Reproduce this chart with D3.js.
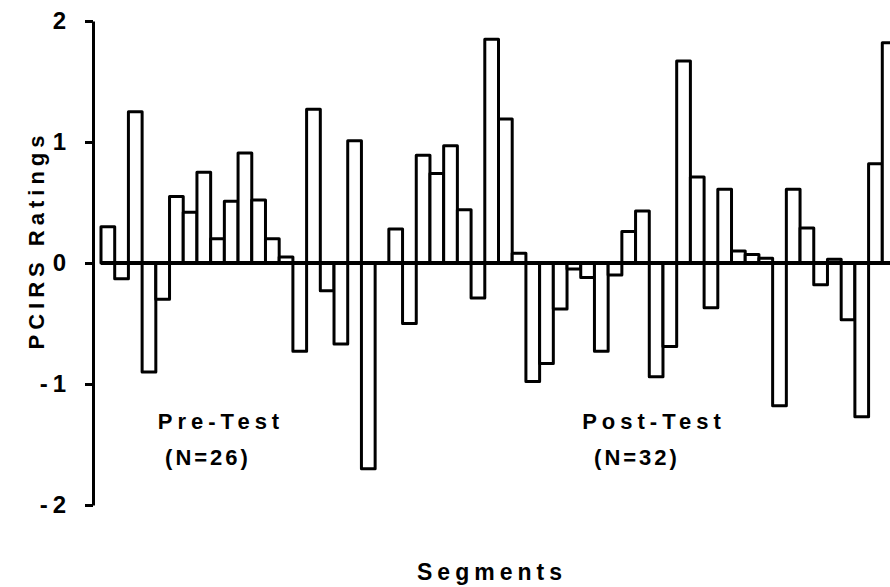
<!DOCTYPE html>
<html>
<head>
<meta charset="utf-8">
<script src="https://cdn.jsdelivr.net/npm/d3@7"></script>
<style>
  body { margin: 0; background: #fff; }
  svg { display: block; }
  text { font-family: "Liberation Sans", Arial, sans-serif; font-weight: bold; fill: #000; }
</style>
</head>
<body>
<div id="viz"></div>
<script>
// PCIRS ratings per segment
// first 26 are pre-test, the last 32 post-test
var preTest = [0.30, -0.13, 1.25, -0.90, -0.30, 0.55, 0.42, 0.75, 0.20, 0.51,
               0.91, 0.52, 0.20, 0.05, -0.73, 1.27, -0.23, -0.67, 1.01, -1.70,
               0.00, 0.28, -0.50, 0.89, 0.74, 0.97];
var postTest = [0.44, -0.29, 1.85, 1.19, 0.08, -0.98, -0.83, -0.38, -0.05, -0.12,
                -0.73, -0.10, 0.26, 0.43, -0.94, -0.69, 1.67, 0.71, -0.37, 0.61,
                0.10, 0.07, 0.04, -1.18, 0.61, 0.29, -0.18, 0.03, -0.47, -1.27,
                0.82, 1.82];
var yTicks = [-2, -1, 0, 1, 2];
var groupLabels = [
  {lines: ['Pre-Test', '(N=26)'], x: [221, 208]},
  {lines: ['Post-Test', '(N=32)'], x: [654, 637]}
];

var ratings = preTest.concat(postTest);

var width = 890, height = 587;
var svg = d3.select('#viz').append('svg')
  .attr('width', width)
  .attr('height', height);

var x = d3.scaleBand()
  .domain(d3.range(ratings.length))
  .range([101, 896])
  .paddingInner(0);

var y = d3.scaleLinear()
  .domain([-2, 2])
  .range([505, 21]);

// bars: open rectangles hanging off the zero line
svg.append('g')
  .selectAll('rect')
  .data(ratings)
  .enter()
  .append('rect')
  .attr('x', function(d, i) { return x(i); })
  .attr('y', function(d) { return y(Math.max(0, d)); })
  .attr('width', x.bandwidth())
  .attr('height', function(d) { return Math.abs(y(d) - y(0)); })
  .style('fill', '#fff')
  .style('stroke', '#000')
  .style('stroke-width', 3)
  .style('stroke-linejoin', 'round');

// zero line
svg.append('line')
  .attr('x1', x.range()[0])
  .attr('x2', width)
  .attr('y1', y(0))
  .attr('y2', y(0))
  .style('stroke', '#000')
  .style('stroke-width', 4);

// y axis
var yAxis = svg.append('g')
  .attr('transform', 'translate(93,0)')
  .call(d3.axisLeft(y)
    .tickValues(yTicks)
    .tickSizeInner(8)
    .tickSizeOuter(0)
    .tickPadding(18)
    .tickFormat(function(d) { return d < 0 ? '-' + (-d) : d; }));

yAxis.select('.domain').style('stroke-width', 3);
yAxis.selectAll('.tick line').style('stroke-width', 3);
yAxis.selectAll('.tick text')
  .style('font-size', '24px')
  .style('letter-spacing', '5px')
  .attr('dx', '4px');

// group annotations
groupLabels.forEach(function(g) {
  g.lines.forEach(function(line, i) {
    svg.append('text')
      .attr('x', g.x[i])
      .attr('y', 429 + i * 36)
      .attr('text-anchor', 'middle')
      .style('font-size', '22px')
      .style('letter-spacing', i === 0 ? '5px' : '3px')
      .text(line);
  });
});

// axis titles
svg.append('text')
  .attr('x', 492)
  .attr('y', 580)
  .attr('text-anchor', 'middle')
  .style('font-size', '23px')
  .style('letter-spacing', '5px')
  .text('Segments');

svg.append('text')
  .attr('transform', 'translate(44,240) rotate(-90)')
  .attr('text-anchor', 'middle')
  .style('font-size', '22px')
  .style('letter-spacing', '5px')
  .text('PCIRS Ratings');
</script>
</body>
</html>
